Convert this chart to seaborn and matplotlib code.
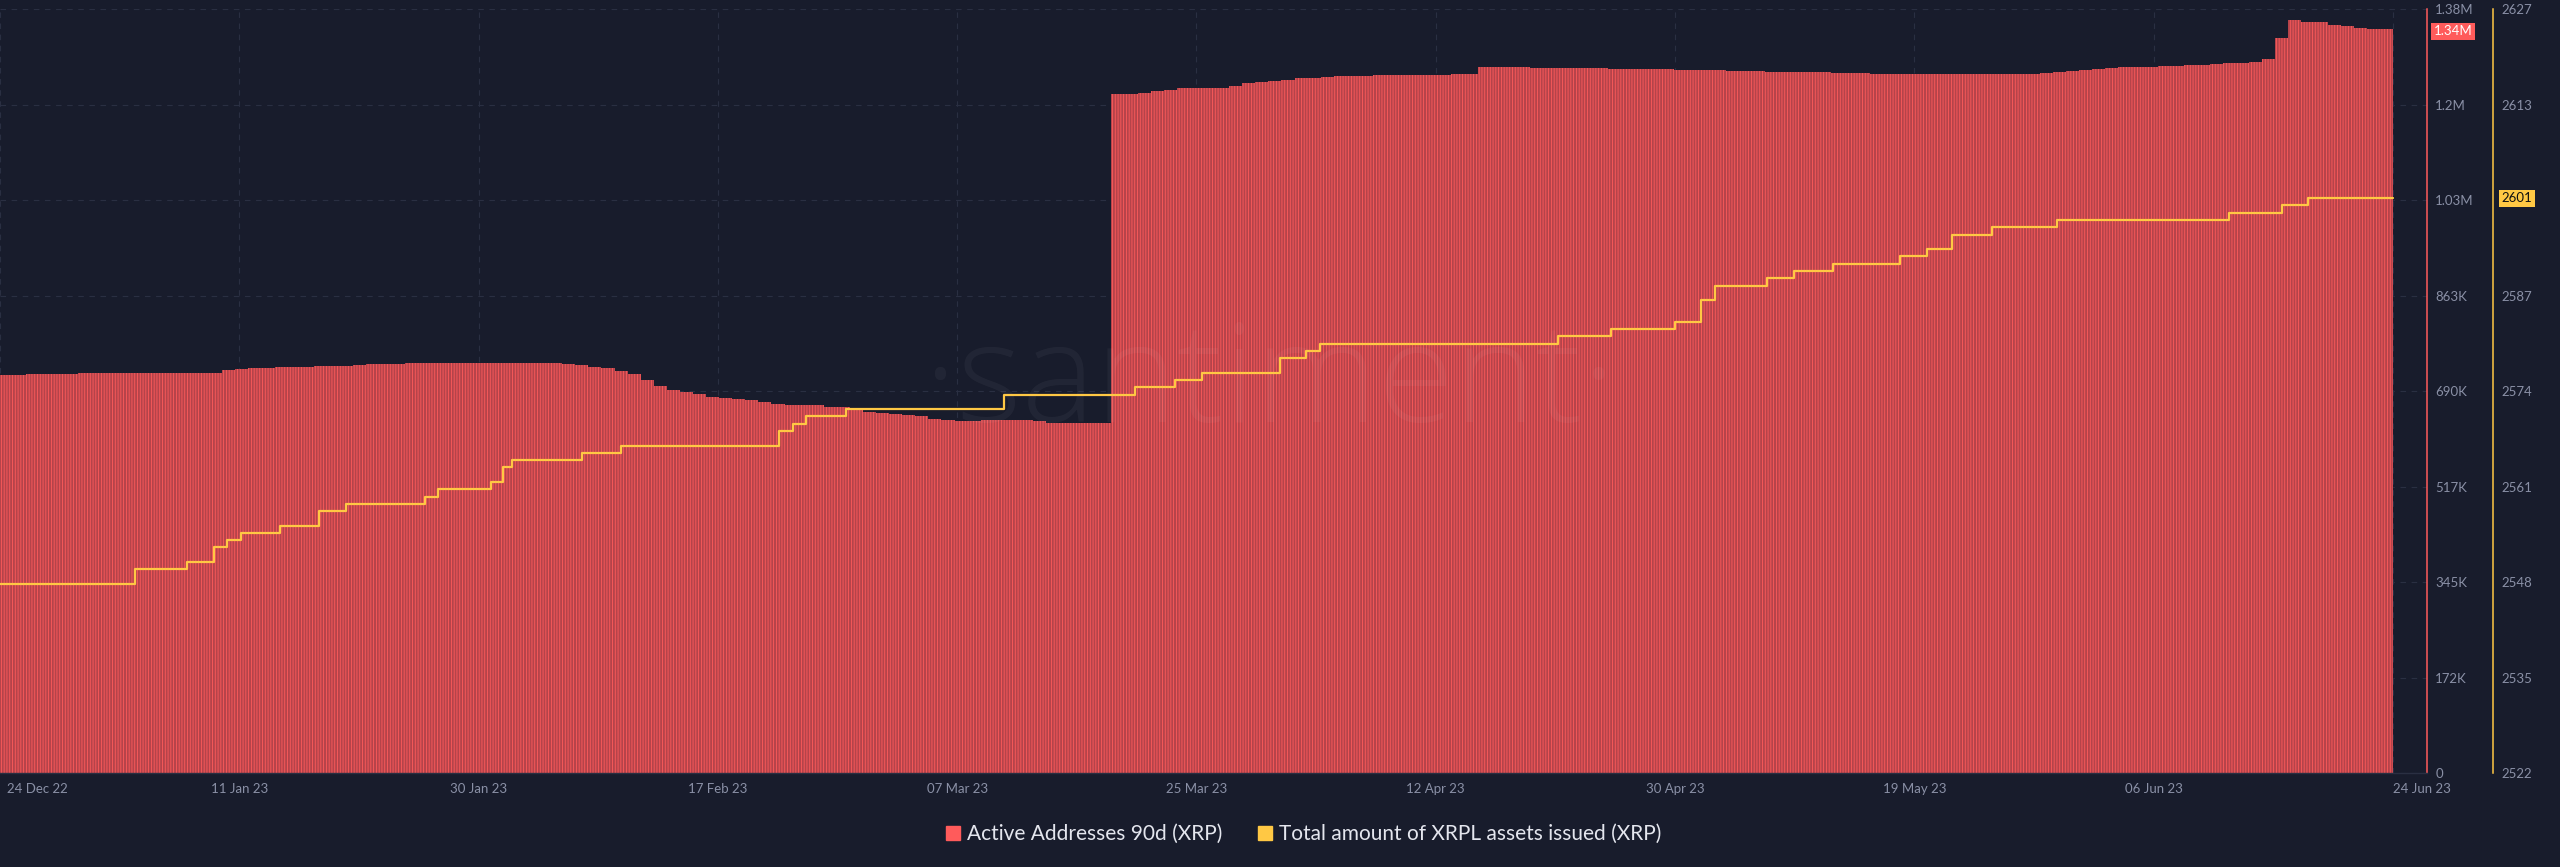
import numpy as np
import pandas as pd
import matplotlib
matplotlib.use('Agg')
import matplotlib.pyplot as plt
import matplotlib.dates as mdates
import matplotlib.transforms as mtrans
from matplotlib.lines import Line2D
import seaborn as sns

# --- data ---
start_date = '2022-12-24'

# Active Addresses 90d (XRP), daily, in thousands
active_90d_k = [
    719, 719, 721, 721, 721, 721, 722, 722, 722, 723, 723, 722, 722, 722, 722, 722, 722,
    728, 730, 731, 732, 733, 734, 734, 735, 735, 736, 737, 738, 738, 739, 740, 740, 741,
    741, 741, 741, 741, 741, 741, 740, 740, 740, 739,
    737, 734, 731, 726, 720, 709, 699, 692, 688, 684, 680, 677, 676, 673, 670, 667, 664,
    665, 664, 662, 661, 657, 653, 651, 649, 647, 644, 640, 638, 636, 636, 638, 638, 638,
    638, 635, 633, 632, 632, 632, 632,
    1226.5, 1226.5, 1227.5, 1232, 1233.5, 1236.8, 1237.5, 1237.8, 1237.9, 1240.5,
    1245.5, 1247.5, 1249.5, 1251, 1254.5, 1255.5, 1257.7, 1258.5, 1259, 1259.5,
    1260, 1260.3, 1260.6, 1261, 1261.3, 1261.7, 1262, 1262.5,
    1275, 1275.2, 1275, 1274.5, 1274.2, 1274, 1273.7, 1273.3, 1273, 1272.7,
    1272.3, 1272, 1271.7, 1271.2, 1270.8, 1270.5, 1270, 1269.5, 1269, 1268.5,
    1268, 1267.5, 1267, 1266.8, 1266.5, 1266, 1265.5, 1265, 1264.5, 1264,
    1263.5, 1263, 1262.7, 1262.5, 1262.2, 1262, 1262, 1262, 1262, 1262.2,
    1262.5, 1263, 1263.5, 1264, 1266, 1268, 1270, 1272, 1273.5, 1275,
    1275.5, 1275.8, 1277.3, 1277.8, 1278.7, 1279.7, 1280.6, 1281.8, 1283, 1284.5,
    1290, 1328, 1360, 1357, 1356, 1352, 1349, 1345, 1344, 1344,
]

# Total amount of XRPL assets issued: times where the count changes
assets_change_times = [
    '2022-12-23 12:00', '2023-01-02 20:00', '2023-01-06 19:00', '2023-01-08 21:00',
    '2023-01-09 20:00', '2023-01-10 22:00', '2023-01-13 22:00', '2023-01-16 21:00',
    '2023-01-18 23:00', '2023-01-25 00:00', '2023-01-26 00:00', '2023-01-30 01:00',
    '2023-01-30 23:00', '2023-01-31 15:00', '2023-02-06 00:00', '2023-02-08 23:00',
    '2023-02-21 01:00', '2023-02-22 03:00', '2023-02-23 03:00', '2023-02-26 04:00',
    '2023-03-10 06:00', '2023-03-20 08:00', '2023-03-23 08:00', '2023-03-25 10:00',
    '2023-03-31 10:00', '2023-04-02 10:00', '2023-04-03 10:00', '2023-04-21 15:00',
    '2023-04-25 16:00', '2023-04-30 15:00', '2023-05-02 15:00', '2023-05-03 15:00',
    '2023-05-07 16:00', '2023-05-09 17:00', '2023-05-12 17:00', '2023-05-17 20:00',
    '2023-05-19 20:00', '2023-05-21 19:00', '2023-05-24 21:00', '2023-05-29 20:00',
    '2023-06-12 00:00', '2023-06-16 01:00', '2023-06-18 01:00', '2023-06-24 12:00',
]
assets_issued = [
    2548, 2550, 2551, 2553, 2554, 2555, 2556, 2558, 2559, 2560, 2561, 2562,
    2564, 2565, 2566, 2567, 2569, 2570, 2571, 2572, 2574, 2575, 2576, 2577,
    2579, 2580, 2581, 2582, 2583, 2584, 2587, 2589, 2590, 2591, 2592, 2593,
    2594, 2596, 2597, 2598, 2599, 2600, 2601, 2601,
]

x_tick_labels = ['24 Dec 22', '11 Jan 23', '30 Jan 23', '17 Feb 23', '07 Mar 23', '25 Mar 23',
                 '12 Apr 23', '30 Apr 23', '19 May 23', '06 Jun 23', '24 Jun 23']
red_tick_labels = ['0', '172K', '345K', '517K', '690K', '863K', '1.03M', '1.2M', '1.38M']
yellow_tick_labels = ['2522', '2535', '2548', '2561', '2574', '2587', '2601', '2613', '2627']

# --- colours ---
BG = '#181c2c'
GRID = '#2a2f42'
TICK = '#8a90a6'
RED = '#ff5b5b'
RED_FILL = '#b5434a'
YELLOW = '#ffc844'
LEGEND_TXT = '#e4e6ee'

sns.set_style('dark')
plt.rcParams['font.family'] = ['Lato', 'DejaVu Sans']
plt.rcParams['hatch.linewidth'] = 0.6

days = pd.date_range(start_date, periods=len(active_90d_k), freq='D')
t0 = mdates.date2num(days[0])
df_bars = pd.DataFrame({'t': mdates.date2num(days), 'active': np.array(active_90d_k) * 1000})
df_line = pd.DataFrame({'t': mdates.date2num(pd.to_datetime(assets_change_times)),
                        'assets': assets_issued})

fig = plt.figure(figsize=(25.6, 8.67), dpi=100, facecolor=BG)
ax = fig.add_axes([0, 0.1084, 0.948, 0.8812])
ax.set_facecolor(BG)

# bars (red)
sns.barplot(data=df_bars, x='t', y='active', native_scale=True, width=1.0,
            color=RED_FILL, saturation=1, errorbar=None, linewidth=0,
            hatch='||||||', edgecolor=RED, ax=ax)

px_per_day = 2393 / 183
ax.set_xlim(t0 - 0.5, t0 - 0.5 + 2427 / px_per_day)
ax.set_ylim(0, 1.38e6)
ax.set_xlabel('')
ax.set_ylabel('')

# grid
ax.grid(True, axis='both', color=GRID, linestyle=(0, (5, 5)), linewidth=0.8)
ax.set_axisbelow(True)

# yellow line on a second axis
ax2 = ax.twinx()
sns.lineplot(data=df_line, x='t', y='assets', ax=ax2, drawstyle='steps-post',
             color=YELLOW, linewidth=1.6, errorbar=None)
ax2.set_xlim(ax.get_xlim())
ax2.set_ylim(2522, 2627)
ax2.set_yticks(np.linspace(2522, 2627, 9))
ax2.set_yticklabels(yellow_tick_labels)
ax2.set_xlabel('')
ax2.set_ylabel('')
ax2.tick_params(axis='y', length=0, pad=6.5, colors=TICK, labelsize=9.5)
for s in ['top', 'left', 'bottom']:
    ax2.spines[s].set_visible(False)
ax2.spines['right'].set_position(('outward', 66 * 72 / 100))
ax2.spines['right'].set_color(YELLOW)
ax2.spines['right'].set_linewidth(1.1)

# x ticks evenly split over the data range
xt = t0 - 0.5 + np.linspace(0, 183, 11)
ax.set_xticks(xt)
ax.set_xticklabels(x_tick_labels)
ax.tick_params(axis='x', length=0, pad=7, colors=TICK, labelsize=9.5)
lbls = ax.get_xticklabels()
lbls[0].set_ha('left')
lbls[0].set_transform(lbls[0].get_transform() + mtrans.ScaledTranslation(7 / 100, 0, fig.dpi_scale_trans))
lbls[-1].set_ha('left')

# red axis on the right (after twinx, which moves it left)
ax.yaxis.tick_right()
ax.set_yticks(np.linspace(0, 1.38e6, 9))
ax.set_yticklabels(red_tick_labels)
ax.tick_params(axis='y', length=0, pad=6, colors=TICK, labelsize=9.5)
for s in ['top', 'left']:
    ax.spines[s].set_visible(False)
ax.spines['right'].set_color(RED)
ax.spines['right'].set_linewidth(1.1)
ax.spines['bottom'].set_color(GRID)
ax.spines['bottom'].set_linewidth(1)

# watermark, faint on top of everything
ax2.text(0.523, 0.459, '\u00b7santiment\u00b7', transform=ax.transAxes, ha='center', va='baseline',
         fontsize=100, color='white', alpha=0.045, family=['Open Sans', 'DejaVu Sans'],
         fontweight='light', zorder=0.5)

# last value badges
ax.annotate('1.34M', xy=(1, 1.34e6), xycoords=('axes fraction', 'data'), xytext=(7, 0),
            textcoords='offset pixels', ha='left', va='center', color='white', fontsize=9.5,
            bbox=dict(boxstyle='square,pad=0.2', fc=RED, ec='none'), annotation_clip=False)
ax2.annotate('2601', xy=(1, 2601), xycoords=('axes fraction', 'data'), xytext=(75, 0),
             textcoords='offset pixels', ha='left', va='center', color='#111111', fontsize=9.5,
             bbox=dict(boxstyle='square,pad=0.2', fc=YELLOW, ec='none'), annotation_clip=False,
             zorder=5)

# legend
handles = [Line2D([], [], marker='s', linestyle='none', markersize=10, color=RED),
           Line2D([], [], marker='s', linestyle='none', markersize=10, color=YELLOW)]
fig.legend(handles, ['Active Addresses 90d (XRP)', 'Total amount of XRPL assets issued (XRP)'],
           loc='center', bbox_to_anchor=(0.509, 0.038), ncol=2, frameon=False, fontsize=15,
           labelcolor=LEGEND_TXT, handletextpad=0.3, columnspacing=1.6, handlelength=0.8)

fig.savefig('out.png', dpi=100, facecolor=BG)
